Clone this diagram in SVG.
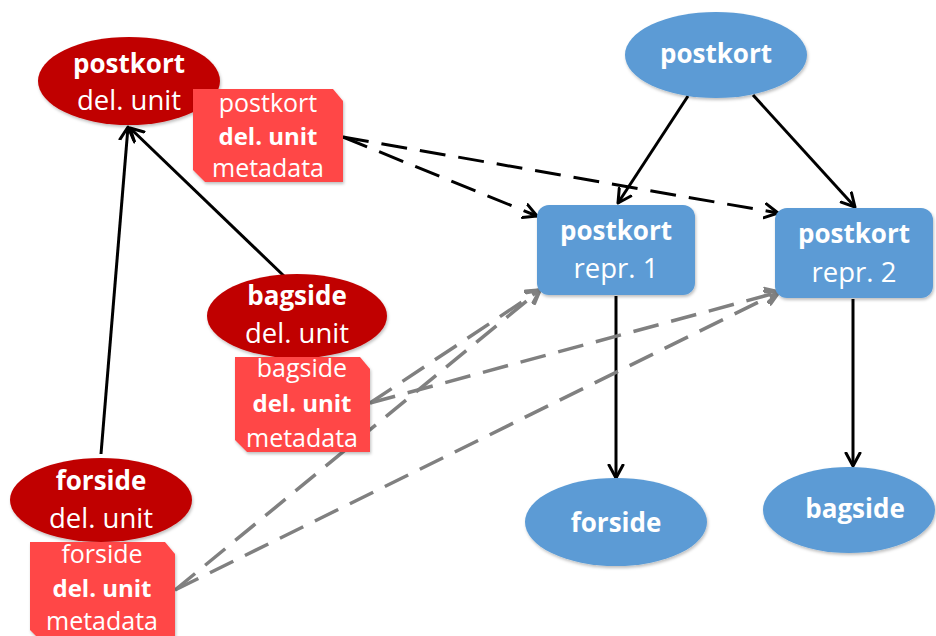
<svg xmlns="http://www.w3.org/2000/svg" width="936" height="636" viewBox="0 0 936 636">
<defs>
<marker id="ab" markerUnits="userSpaceOnUse" markerWidth="20" markerHeight="20" refX="14" refY="8" orient="auto" viewBox="0 0 20 16">
<path d="M1,1 L14,8 L1,15" fill="none" stroke="#000" stroke-width="3" stroke-linecap="round" stroke-linejoin="round"/>
</marker>
<marker id="ag" markerUnits="userSpaceOnUse" markerWidth="20" markerHeight="20" refX="14" refY="8" orient="auto" viewBox="0 0 20 16">
<path d="M1,1 L14,8 L1,15" fill="none" stroke="#808080" stroke-width="3.5" stroke-linecap="round" stroke-linejoin="round"/>
</marker>
<filter id="sh" x="-10%" y="-10%" width="125%" height="130%">
<feDropShadow dx="1" dy="2" stdDeviation="1.5" flood-color="#000" flood-opacity="0.25"/>
</filter>
</defs>
<style>
text{font-family:"Open Sans","Noto Sans","Liberation Sans",sans-serif;fill:#fff;text-anchor:middle}
.b{font-weight:bold}
.n26{font-size:26px}
.r27{font-size:27.5px}
.n24{font-size:24px}
.r25{font-size:25px}
.dr{fill:#C00000;filter:url(#sh)}
.rm{fill:#FF4747;filter:url(#sh)}
.bl{fill:#5B9BD5;filter:url(#sh)}
.sol{stroke:#000;stroke-width:3;fill:none;marker-end:url(#ab)}
.dk{stroke:#000;stroke-width:3;fill:none;stroke-dasharray:26 13;marker-end:url(#ab)}
.gr{stroke:#808080;stroke-width:3.5;fill:none;stroke-dasharray:26 13;marker-end:url(#ag)}
</style>
<rect width="936" height="636" fill="#fff"/>
<g id="connectors">
<line class="sol" x1="101" y1="454" x2="128" y2="127"/>
<line class="sol" x1="284" y1="276" x2="130" y2="128"/>
<line class="sol" x1="688" y1="96" x2="618" y2="203"/>
<line class="sol" x1="753" y1="95" x2="855" y2="207"/>
<line class="sol" x1="616" y1="296" x2="616" y2="478"/>
<line class="sol" x1="853" y1="299" x2="853" y2="466"/>
<line class="dk" x1="343" y1="137" x2="537" y2="216"/>
<line class="dk" x1="343" y1="137" x2="778" y2="213"/>
<line class="gr" x1="175" y1="590" x2="540" y2="290"/>
<line class="gr" x1="175" y1="590" x2="779" y2="292"/>
<line class="gr" x1="370" y1="403" x2="540" y2="290"/>
<line class="gr" x1="370" y1="403" x2="779" y2="292"/>
</g>
<g id="postkort-del-unit">
<ellipse class="dr" cx="129" cy="81" rx="91" ry="44"/>
<text class="b n26" x="129" y="73">postkort</text>
<text class="r27" x="129" y="110">del. unit</text>
</g>
<g id="postkort-metadata">
<polygon class="rm" points="193,89 333,89 343,101 343,182 205,182 193,170"/>
<text class="r25" x="268" y="112">postkort</text>
<text class="b n24" x="268" y="145">del. unit</text>
<text class="r25" x="268" y="177">metadata</text>
</g>
<g id="bagside-del-unit">
<ellipse class="dr" cx="297" cy="316" rx="90" ry="42"/>
<text class="b n26" x="297" y="305">bagside</text>
<text class="r27" x="297" y="343">del. unit</text>
</g>
<g id="bagside-metadata">
<polygon class="rm" points="235,357 360,357 370,369 370,452 247,452 235,440"/>
<text class="r25" x="302" y="377">bagside</text>
<text class="b n24" x="302" y="412">del. unit</text>
<text class="r25" x="302" y="447">metadata</text>
</g>
<g id="forside-del-unit">
<ellipse class="dr" cx="101" cy="500" rx="91" ry="42"/>
<text class="b n26" x="101" y="490">forside</text>
<text class="r27" x="101" y="528">del. unit</text>
</g>
<g id="forside-metadata">
<polygon class="rm" points="30,542 165,542 175,554 175,642 42,642 30,630"/>
<text class="r25" x="102" y="563">forside</text>
<text class="b n24" x="102" y="597">del. unit</text>
<text class="r25" x="102" y="630">metadata</text>
</g>
<g id="postkort">
<ellipse class="bl" cx="716" cy="55" rx="91" ry="43"/>
<text class="b n26" x="716" y="63">postkort</text>
</g>
<g id="repr1">
<rect class="bl" x="537" y="205" width="158" height="90" rx="12"/>
<text class="b n26" x="616" y="240">postkort</text>
<text class="r27" x="616" y="278">repr. 1</text>
</g>
<g id="repr2">
<rect class="bl" x="775" y="208" width="158" height="90" rx="12"/>
<text class="b n26" x="854" y="243">postkort</text>
<text class="r27" x="854" y="282">repr. 2</text>
</g>
<g id="forside">
<ellipse class="bl" cx="616" cy="522" rx="91" ry="44"/>
<text class="b n26" x="616" y="532">forside</text>
</g>
<g id="bagside">
<ellipse class="bl" cx="849" cy="510" rx="86" ry="43"/>
<text class="b n26" x="855" y="518">bagside</text>
</g>
</svg>
